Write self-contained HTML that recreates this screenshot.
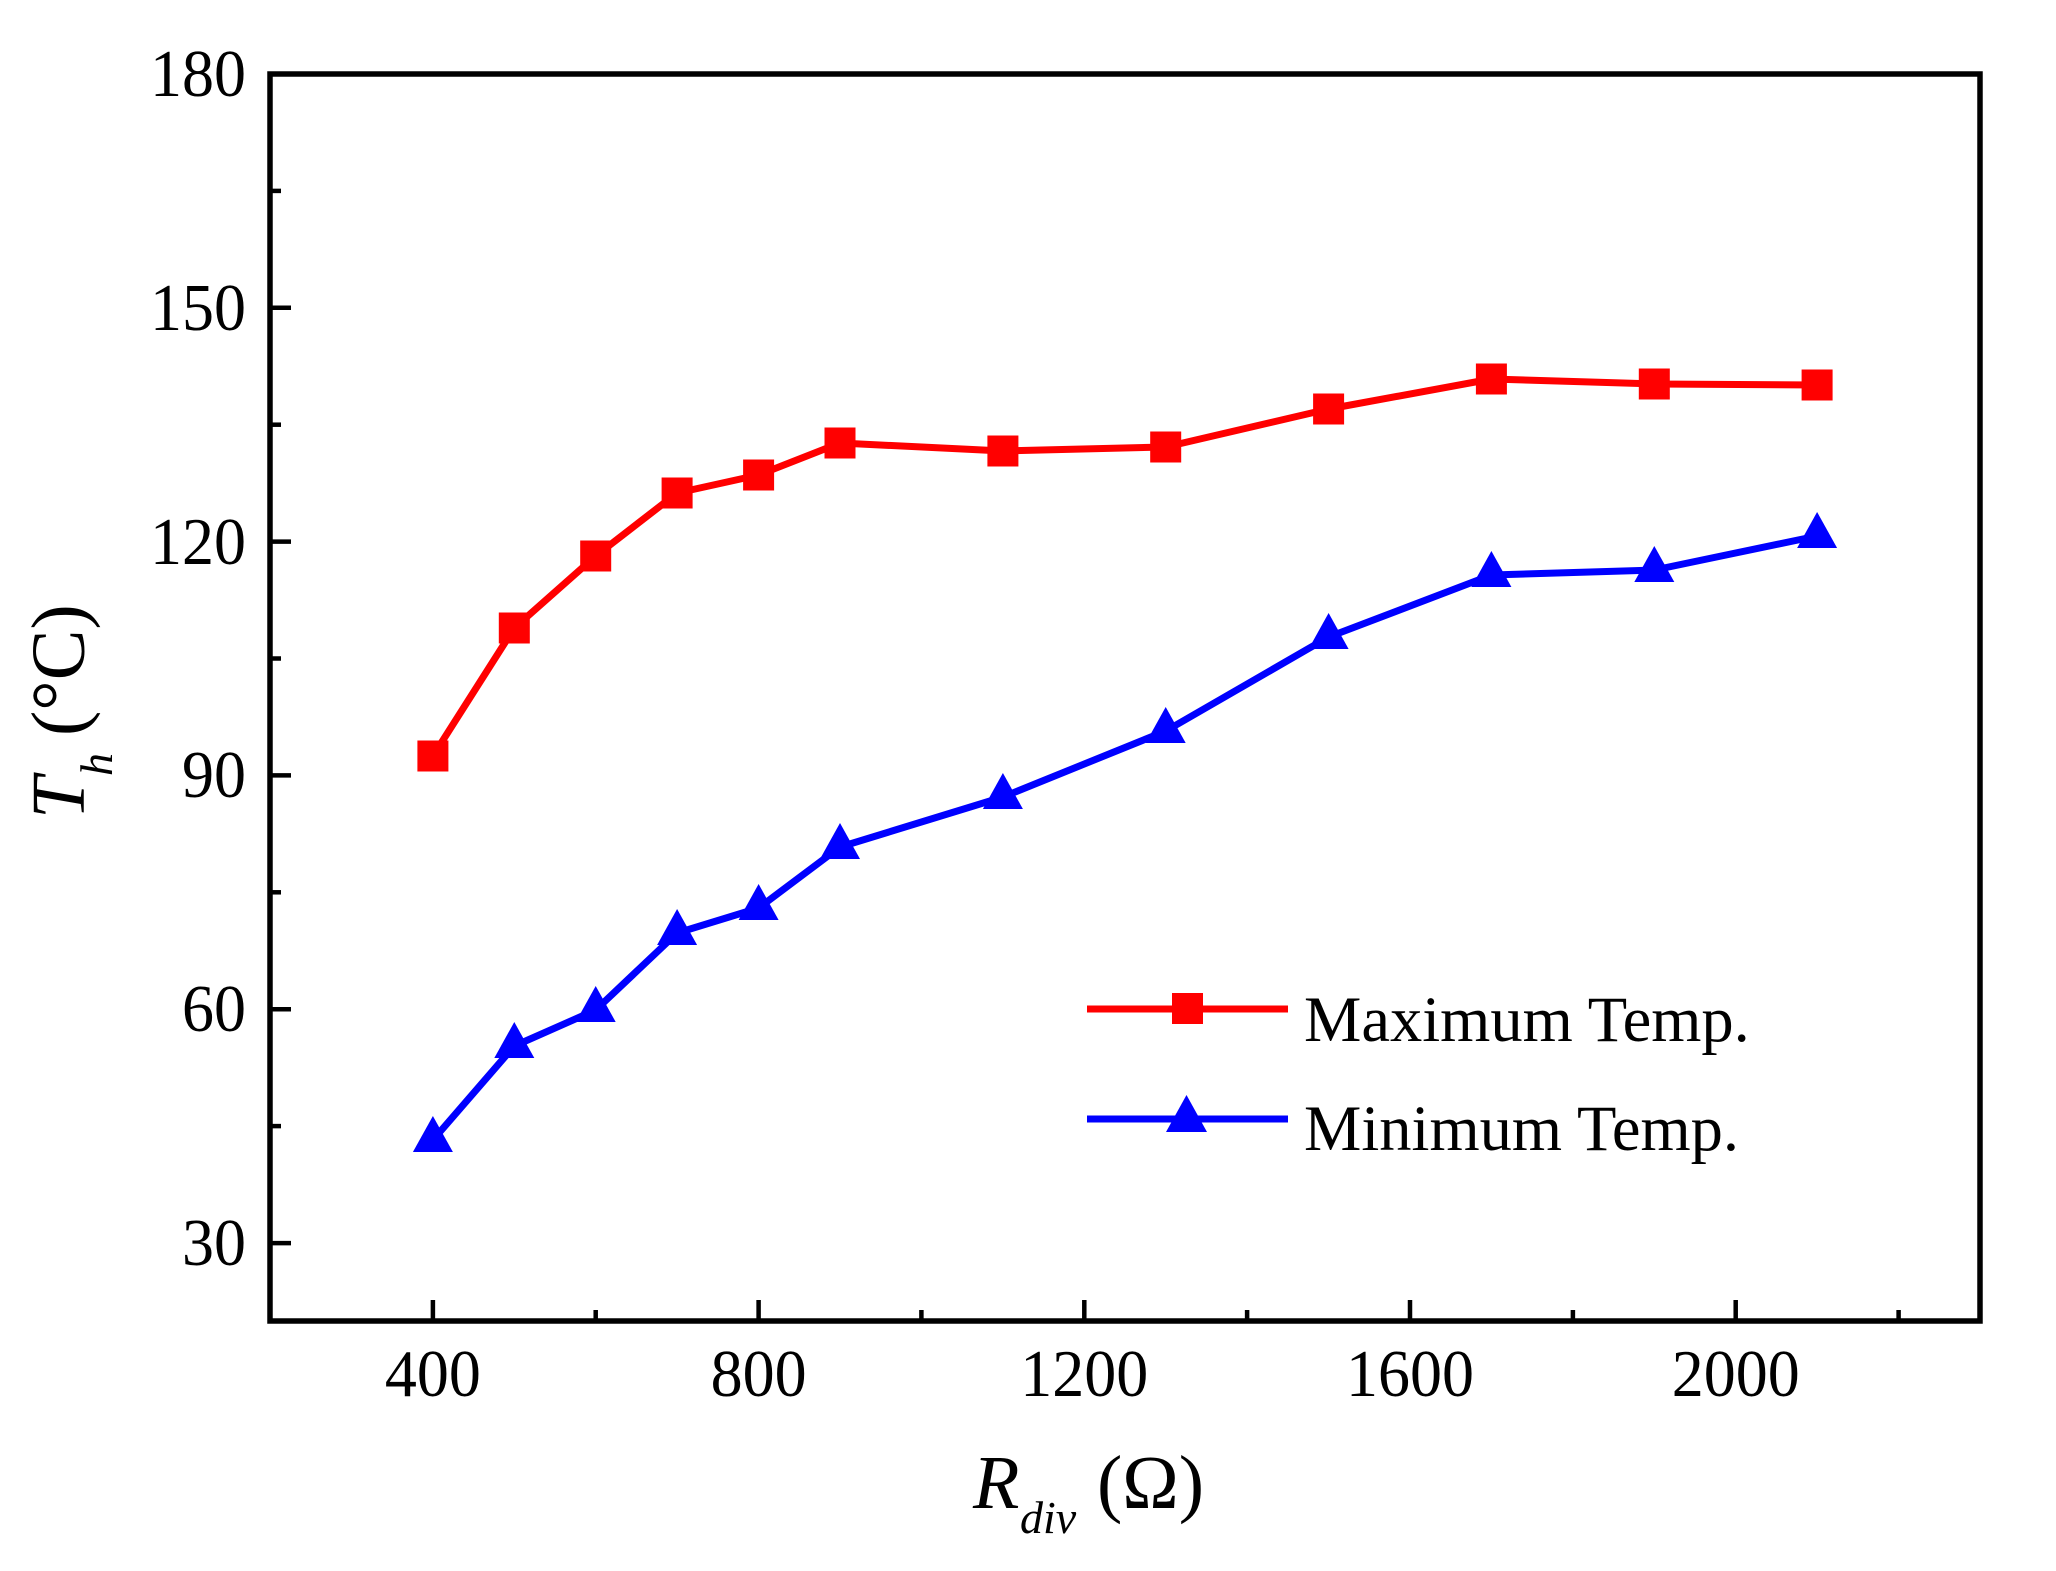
<!DOCTYPE html>
<html><head><meta charset="utf-8"><style>
html,body{margin:0;padding:0;background:#fff;}
svg{display:block;}
text{font-family:"Liberation Serif","Times New Roman",serif;fill:#000;}
</style></head><body>
<svg width="2056" height="1571" viewBox="0 0 2056 1571" xmlns="http://www.w3.org/2000/svg">
<rect width="2056" height="1571" fill="#fff"/>
<!-- ticks -->
<g stroke="#000" stroke-width="4.5">
<line x1="432.9" y1="1321" x2="432.9" y2="1300"/>
<line x1="758.6" y1="1321" x2="758.6" y2="1300"/>
<line x1="1084.3" y1="1321" x2="1084.3" y2="1300"/>
<line x1="1410" y1="1321" x2="1410" y2="1300"/>
<line x1="1735.7" y1="1321" x2="1735.7" y2="1300"/>
<line x1="595.7" y1="1321" x2="595.7" y2="1310"/>
<line x1="921.4" y1="1321" x2="921.4" y2="1310"/>
<line x1="1247.1" y1="1321" x2="1247.1" y2="1310"/>
<line x1="1572.9" y1="1321" x2="1572.9" y2="1310"/>
<line x1="1898.6" y1="1321" x2="1898.6" y2="1310"/>
<line x1="270" y1="1243.1" x2="291" y2="1243.1"/>
<line x1="270" y1="1009.2" x2="291" y2="1009.2"/>
<line x1="270" y1="775.4" x2="291" y2="775.4"/>
<line x1="270" y1="541.6" x2="291" y2="541.6"/>
<line x1="270" y1="307.8" x2="291" y2="307.8"/>
<line x1="270" y1="1126.1" x2="281" y2="1126.1"/>
<line x1="270" y1="892.3" x2="281" y2="892.3"/>
<line x1="270" y1="658.5" x2="281" y2="658.5"/>
<line x1="270" y1="424.7" x2="281" y2="424.7"/>
<line x1="270" y1="190.9" x2="281" y2="190.9"/>
</g>
<rect x="270" y="74" width="1710" height="1247" fill="none" stroke="#000" stroke-width="5.5"/>

<!-- y tick labels -->
<g font-size="64" text-anchor="end">
<text transform="translate(246,96) scale(1,1.05)">180</text>
<text transform="translate(246,330) scale(1,1.05)">150</text>
<text transform="translate(246,564) scale(1,1.05)">120</text>
<text transform="translate(246,797) scale(1,1.05)">90</text>
<text transform="translate(246,1031) scale(1,1.05)">60</text>
<text transform="translate(246,1265) scale(1,1.05)">30</text>
</g>
<!-- x tick labels -->
<g font-size="64" text-anchor="middle">
<text transform="translate(432.9,1396) scale(1,1.05)">400</text>
<text transform="translate(758.6,1396) scale(1,1.05)">800</text>
<text transform="translate(1084.3,1396) scale(1,1.05)">1200</text>
<text transform="translate(1410,1396) scale(1,1.05)">1600</text>
<text transform="translate(1735.7,1396) scale(1,1.05)">2000</text>
</g>

<!-- red series -->
<polyline fill="none" stroke="#ff0000" stroke-width="7" stroke-linejoin="round"
points="432.9,756 514.3,628 595.7,556 677.1,493 758.6,475 840,443 1002.9,451 1165.7,447 1328.6,409 1491.4,379 1654.3,384 1817.1,385"/>
<g fill="#ff0000">
<rect x="417.4" y="740.5" width="31" height="31"/>
<rect x="498.8" y="612.5" width="31" height="31"/>
<rect x="580.2" y="540.5" width="31" height="31"/>
<rect x="661.6" y="477.5" width="31" height="31"/>
<rect x="743.1" y="459.5" width="31" height="31"/>
<rect x="824.5" y="427.5" width="31" height="31"/>
<rect x="987.4" y="435.5" width="31" height="31"/>
<rect x="1150.2" y="431.5" width="31" height="31"/>
<rect x="1313.1" y="393.5" width="31" height="31"/>
<rect x="1475.9" y="363.5" width="31" height="31"/>
<rect x="1638.8" y="368.5" width="31" height="31"/>
<rect x="1801.6" y="369.5" width="31" height="31"/>
</g>

<!-- blue series -->
<polyline fill="none" stroke="#0000ff" stroke-width="7" stroke-linejoin="round"
points="432.9,1140 514.3,1046 595.7,1010 677.1,933 758.6,908 840,847 1002.9,797 1165.7,731 1328.6,637 1491.4,575 1654.3,570 1817.1,536"/>
<g fill="#0000ff">
<path d="M432.9,1116 l20,36 h-40z"/>
<path d="M514.3,1022 l20,36 h-40z"/>
<path d="M595.7,986 l20,36 h-40z"/>
<path d="M677.1,909 l20,36 h-40z"/>
<path d="M758.6,884 l20,36 h-40z"/>
<path d="M840,823 l20,36 h-40z"/>
<path d="M1002.9,773 l20,36 h-40z"/>
<path d="M1165.7,707 l20,36 h-40z"/>
<path d="M1328.6,613 l20,36 h-40z"/>
<path d="M1491.4,551 l20,36 h-40z"/>
<path d="M1654.3,546 l20,36 h-40z"/>
<path d="M1817.1,512 l20,36 h-40z"/>
</g>

<!-- legend -->
<line x1="1087" y1="1009" x2="1288" y2="1009" stroke="#ff0000" stroke-width="7"/>
<rect x="1172" y="993" width="31" height="31" fill="#ff0000"/>
<line x1="1087" y1="1119" x2="1288" y2="1119" stroke="#0000ff" stroke-width="7"/>
<path d="M1186.5,1095 l20.5,37 h-41z" fill="#0000ff"/>
<text x="1304" y="1041" font-size="64.5">Maximum Temp.</text>
<text x="1304" y="1150" font-size="64.5">Minimum Temp.</text>

<!-- x axis title -->
<text y="1508" font-size="76"><tspan x="973" font-style="italic">R</tspan><tspan x="1020" y="1533" font-size="46" font-style="italic">div</tspan><tspan x="1097" y="1508">(Ω)</tspan></text>

<!-- y axis title -->
<g transform="translate(84,819) rotate(-90)">
<text x="0" y="0" font-size="76"><tspan font-style="italic">T</tspan><tspan x="43" y="28" font-size="46" font-style="italic">h</tspan><tspan x="83" y="0">(°C)</tspan></text>
</g>
</svg>
</body></html>
